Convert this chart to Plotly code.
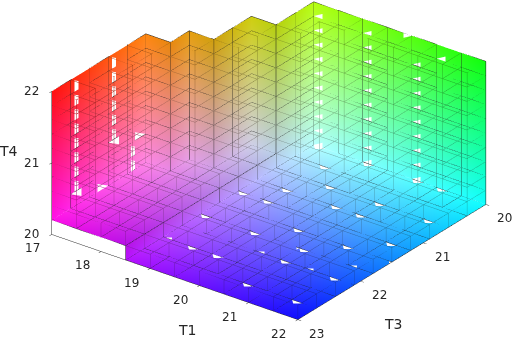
import plotly.graph_objects as go

# Cell edges along each temperature axis
T1_edges = [17, 17.5, 18, 18.5, 19, 19.5, 20, 20.5, 21, 21.5, 22]
T3_edges = [20, 20.3, 20.6, 20.9, 21.2, 21.5, 21.8, 22.1, 22.4, 22.7, 23]
T4_edges = [20, 20.2, 20.4, 20.6, 20.8, 21, 21.2, 21.4, 21.6, 21.8, 22]

# For each T1 column: first occupied T3 cell and lowest occupied T4 cell
first_T3_cell = [5, 4, 2, 0, 0, 0, 0, 0, 0, 0]
first_T4_cell = [1, 1, 1, 0, 0, 0, 0, 0, 0, 0]

T1_ticks = [17, 18, 19, 20, 21, 22]
T3_ticks = [20, 21, 22, 23]
T4_ticks = [20, 21, 22]

WASH = 0.06
FAINT = 0.70
INK = "rgb(38,38,38)"


def base_rgb(t1, t3, t4):
    r = 1 - (t1 - 17) / 5
    g = 1 - (t3 - 20) / 3
    b = 1 - (t4 - 20) / 2
    return [255 * (c + (1 - c) * WASH) for c in (r, g, b)]


def colour(t1, t3, t4):
    return "rgb(%d,%d,%d)" % tuple(round(v) for v in base_rgb(t1, t3, t4))


def faint_colour(t1, t3, t4):
    return "rgb(%d,%d,%d)" % tuple(round(v * FAINT + 40 * (1 - FAINT)) for v in base_rgb(t1, t3, t4))


n1, n3, n4 = len(T1_edges) - 1, len(T3_edges) - 1, len(T4_edges) - 1

# Occupied cells: a floor layer plus a one-cell-thick wall along the far staircase
cells = set()
for a in range(n1):
    for c in range(first_T3_cell[a], n3):
        cells.add((a, c, first_T4_cell[a]))
for c in range(n3):
    a_min = min(a for a in range(n1) if first_T3_cell[a] <= c)
    for k in range(first_T4_cell[a_min], n4):
        cells.add((a_min, c, k))
for a in range(n1):
    for k in range(first_T4_cell[a], n4):
        cells.add((a, first_T3_cell[a], k))

# Far faces of the occupied cells: exposed towards low T1, low T3 or low T4
far_quads = []
for (a, c, k) in sorted(cells):
    if (a - 1, c, k) not in cells and not any((a - 1, c, q) in cells for q in range(k + 1)):
        far_quads.append(((a, c, k), (a, c + 1, k), (a, c + 1, k + 1), (a, c, k + 1)))
    if (a, c - 1, k) not in cells:
        far_quads.append(((a, c, k), (a + 1, c, k), (a + 1, c, k + 1), (a, c, k + 1)))
    if (a, c, k - 1) not in cells:
        far_quads.append(((a, c, k), (a + 1, c, k), (a + 1, c + 1, k), (a, c + 1, k)))
# Riser between the raised floor and the lower floor
for c in range(first_T3_cell[3], n3):
    if first_T4_cell[3] < first_T4_cell[2] and c >= first_T3_cell[2]:
        far_quads.append(((3, c, 0), (3, c + 1, 0), (3, c + 1, 1), (3, c, 1)))

# Coloured surface with shared corners
index_of = {}
vx, vy, vz, vc, fi, fj, fk = [], [], [], [], [], [], []
for quad in far_quads:
    ids = []
    for (a, c, k) in quad:
        if (a, c, k) not in index_of:
            index_of[(a, c, k)] = len(vx)
            vx.append(T3_edges[c])
            vy.append(T1_edges[a])
            vz.append(T4_edges[k])
            vc.append(colour(T1_edges[a], T3_edges[c], T4_edges[k]))
        ids.append(index_of[(a, c, k)])
    fi += [ids[0], ids[0]]
    fj += [ids[1], ids[2]]
    fk += [ids[2], ids[3]]


def edges_of(quad):
    return [frozenset((quad[m], quad[(m + 1) % 4])) for m in range(4)]


dark = set()
for quad in far_quads:
    dark.update(edges_of(quad))

faint = set()
for (a, c, k) in cells:
    corners = [(a + p, c + q, k + r) for p in (0, 1) for q in (0, 1) for r in (0, 1)]
    for u in corners:
        for w in corners:
            if u < w and sum(abs(s - t) for s, t in zip(u, w)) == 1:
                edge = frozenset((u, w))
                if edge not in dark:
                    faint.add(edge)


def polyline(edge_set, shade=None):
    xs, ys, zs, cs = [], [], [], []
    for edge in sorted(edge_set, key=sorted):
        for (a, c, k) in sorted(edge):
            xs.append(T3_edges[c])
            ys.append(T1_edges[a])
            zs.append(T4_edges[k])
            if shade:
                cs.append(shade(T1_edges[a], T3_edges[c], T4_edges[k]))
        xs.append(None)
        ys.append(None)
        zs.append(None)
        if shade:
            cs.append("rgb(0,0,0)")
    return xs, ys, zs, cs


fig = go.Figure()
fig.add_trace(go.Mesh3d(
    x=vx, y=vy, z=vz, i=fi, j=fj, k=fk, vertexcolor=vc,
    lighting=dict(ambient=1, diffuse=0, specular=0, fresnel=0.2, roughness=0.5),
    flatshading=True, hoverinfo="skip", showscale=False,
))
xs, ys, zs, cs = polyline(faint, faint_colour)
fig.add_trace(go.Scatter3d(
    x=xs, y=ys, z=zs, mode="lines", connectgaps=False,
    line=dict(color=cs, width=1), hoverinfo="skip", showlegend=False,
))
xs, ys, zs, _ = polyline(dark)
fig.add_trace(go.Scatter3d(
    x=xs, y=ys, z=zs, mode="lines", connectgaps=False,
    line=dict(color="rgb(25,25,25)", width=1), hoverinfo="skip", showlegend=False,
))


def axis(rng, ticks):
    return dict(
        title=dict(text=""),
        range=rng, tickvals=ticks, showticklabels=False,
        showgrid=False, zeroline=False, showbackground=False, showspikes=False,
        showline=True, linecolor=INK, linewidth=1,
        ticks="outside", ticklen=4, tickcolor=INK, tickwidth=1,
    )


def label(text, t1, t3, t4, dx, dy, size=12):
    return dict(
        x=t3, y=t1, z=t4, text=text, showarrow=False, xshift=dx, yshift=dy,
        xanchor="center", yanchor="middle",
        font=dict(family="DejaVu Sans", size=size, color=INK),
    )


labels = (
    [label(str(v), 17, 23, v, -20, 0) for v in T4_ticks]
    + [label(str(v), v, 23, 20, -19, -14) for v in T1_ticks]
    + [label(str(v), 22, v, 20, 19, -14) for v in T3_ticks]
    + [
        label("T1", 19.5, 23, 20, 12, -53, size=14),
        label("T3", 22, 21.5, 20, 1, -62, size=14),
        label("T4", 17, 23, 21, -43, 12, size=14),
    ]
)

direction = (0.709, 0.533, 0.46)
centre = (0.082, -0.003, -0.122)

fig.update_layout(
    width=520, height=343,
    margin=dict(l=0, r=0, t=0, b=0),
    paper_bgcolor="white",
    showlegend=False,
    scene=dict(
        domain=dict(x=[0, 1], y=[0, 1]),
        xaxis=axis([20, 23], T3_ticks),
        yaxis=axis([17, 22], T1_ticks),
        zaxis=axis([20, 22], T4_ticks),
        aspectmode="manual",
        aspectratio=dict(x=1.825, y=1.795, z=0.94),
        annotations=labels,
        camera=dict(
            projection=dict(type="orthographic"),
            eye=dict(x=centre[0] + direction[0] * 1.7, y=centre[1] + direction[1] * 1.7,
                     z=centre[2] + direction[2] * 1.7),
            center=dict(x=centre[0], y=centre[1], z=centre[2]),
            up=dict(x=0, y=0, z=1),
        ),
    ),
)
fig.write_html("out.html")
